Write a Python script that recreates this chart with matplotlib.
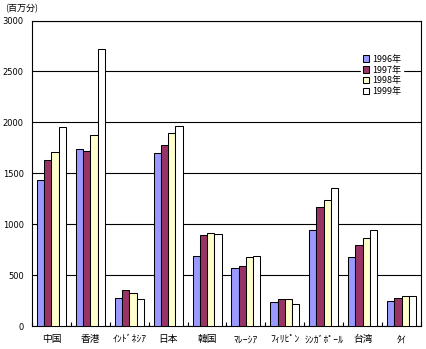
import matplotlib
matplotlib.use("Agg")
import matplotlib.pyplot as plt
import numpy as np

plt.rcParams['font.family'] = ['Noto Sans CJK JP', 'DejaVu Sans']

categories = ["中国", "香港", "ｲﾝﾄﾞﾈｼｱ", "日本", "韓国", "ﾏﾚｰｼｱ", "ﾌｨﾘﾋﾟﾝ", "ｼﾝｶﾞﾎﾟｰﾙ", "台湾", "ﾀｲ"]
series_names = ["1996年", "1997年", "1998年", "1999年"]
v1996 = [1432, 1737, 272, 1698, 692, 565, 233, 938, 679, 243]
v1997 = [1629, 1717, 354, 1779, 893, 588, 262, 1165, 798, 272]
v1998 = [1707, 1875, 321, 1893, 912, 675, 262, 1235, 867, 295]
v1999 = [1953, 2720, 262, 1964, 903, 685, 213, 1353, 947, 295]
yticks = [0, 500, 1000, 1500, 2000, 2500, 3000]
colors = ["#9999FF", "#993366", "#FFFFCC", "#FFFFFF"]

fig = plt.figure(figsize=(4.27, 3.49), dpi=100)
ax = fig.add_axes([32/427, 1-326/349, (421-32)/427, (326-20.5)/349])

x = np.arange(len(categories))
w = 0.187
for i, vals in enumerate([v1996, v1997, v1998, v1999]):
    ax.bar(x + (i - 1.5) * w, vals, width=w, color=colors[i], edgecolor="black",
           linewidth=0.75, label=series_names[i], zorder=3)

ax.set_xlim(-0.5, len(categories) - 0.5)
ax.set_ylim(0, 3000)
ax.set_yticks(yticks)
ax.set_yticklabels([str(t) for t in yticks], fontsize=6, family='DejaVu Sans')
ax.yaxis.grid(True, color="black", linewidth=0.8, zorder=0)
ax.tick_params(axis='y', length=0, pad=6)
ax.set_xticks(x)
ax.set_xticklabels(categories, fontsize=7)
ax.tick_params(axis='x', length=0, pad=6)
ax.set_xticks(np.arange(len(categories) + 1) - 0.5, minor=True)
ax.tick_params(axis='x', which='minor', direction='in', length=3, width=0.8)
for s in ax.spines.values():
    s.set_linewidth(0.8)

leg = ax.legend(loc='upper left', bbox_to_anchor=((361-32)/389, 1-(53-20.5)/305.5),
                fontsize=6.5, frameon=True, handlelength=0.7, handleheight=0.7,
                handletextpad=0.3, labelspacing=0.2, borderpad=0.2, borderaxespad=0)
leg.get_frame().set_edgecolor('white')
leg.get_frame().set_facecolor('white')
leg.get_frame().set_alpha(1)
leg.set_zorder(5)

fig.text(5/427, 1-9/349, "(百万分)", fontsize=6.5, va='center', ha='left')

fig.savefig("out.png", dpi=100)
